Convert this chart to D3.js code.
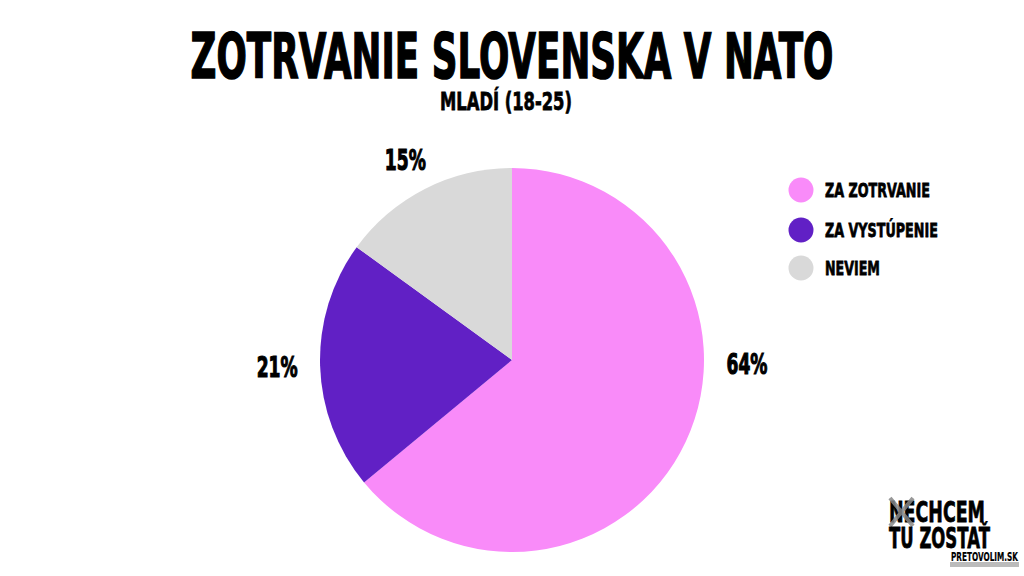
<!DOCTYPE html>
<html>
<head>
<meta charset="utf-8">
<script src="https://cdn.jsdelivr.net/npm/d3@7"></script>
<style>
  html, body { margin: 0; padding: 0; background: #fff; }
  svg { display: block; }
  text { font-family: "DejaVu Sans", sans-serif; font-weight: bold; fill: #000; }
</style>
</head>
<body>
<svg id="chart"></svg>
<script>
// Zotrvanie Slovenska v NATO - mladí (18-25)

const categories = ['ZA ZOTRVANIE', 'ZA VYSTÚPENIE', 'NEVIEM'];
const values = [64, 21, 15];
const colors = ['#F98BF9', '#6120C5', '#D9D9D9'];
// uhol stredu popisu (v stupňoch od 12 hod.), null = stred výseku
const labelAngles = [91, null, null];

const W = 1024, H = 576;
const svg = d3.select('#chart').attr('width', W).attr('height', H);

svg.append('rect').attr('width', W).attr('height', H).attr('fill', '#fff');

// text zúžený na danú šírku (písmo je širšie ako originál)
function fitText(parent, str, x, y, width, size, anchor, stroke) {
  const t = parent.append('text')
    .attr('text-anchor', anchor)
    .attr('font-size', size + 'px')
    .attr('stroke', '#000')
    .attr('stroke-width', stroke)
    .text(str);
  const w = t.node().getComputedTextLength() || width;
  t.attr('transform', `translate(${x},${y}) scale(${width / w},1)`);
  return t;
}

// titulok
fitText(svg, 'ZOTRVANIE SLOVENSKA V NATO', 512, 78, 643, 62, 'middle', 1.6);
fitText(svg, 'MLADÍ (18-25)', 506, 110, 132, 24, 'middle', 0.8);

// koláč
const cx = 512, cy = 360, radius = 192;
const data = categories.map((c, i) => ({ cat: c, value: values[i], color: colors[i], la: labelAngles[i] }));

const pie = d3.pie().value(d => d.value).sort(null);
const arc = d3.arc().innerRadius(0).outerRadius(radius);
const arcs = pie(data);

const g = svg.append('g').attr('transform', `translate(${cx},${cy})`);

g.selectAll('path.slice')
  .data(arcs)
  .enter()
  .append('path')
  .attr('class', 'slice')
  .attr('d', arc)
  .attr('fill', d => d.data.color);

const labelR = 235;
arcs.forEach(d => {
  const a = d.data.la != null ? d.data.la * Math.PI / 180 : (d.startAngle + d.endAngle) / 2;
  const x = Math.sin(a) * labelR;
  const y = -Math.cos(a) * labelR;
  // nad koláčom posun nižšie, aby popis sedel pri okraji
  const dy = 10 + Math.max(0, Math.cos(a)) * 10;
  fitText(g, d.data.value + '%', x, y + dy, 41, 28, 'middle', 1.2);
});

// legenda
const legend = svg.append('g').attr('transform', 'translate(801,190)');
const legendStep = [0, 40, 78];
const legendWidth = [105, 113, 55];
data.forEach((d, i) => {
  legend.append('circle')
    .attr('cy', legendStep[i])
    .attr('r', 12.5)
    .attr('fill', d.color);
  fitText(legend, d.cat, 24, legendStep[i] + 7, legendWidth[i], 20, 'start', 0.8);
});

// logo
const logo = svg.append('g').attr('transform', 'translate(889,0)');
fitText(logo, 'NECHCEM', 0, 522, 96, 29, 'start', 0.8);
logo.append('path')
  .attr('d', 'M1,498 L24,526 M24,498 L1,526')
  .attr('stroke', '#888').attr('stroke-width', 4).attr('opacity', 0.85);
fitText(logo, 'TU ZOSTAŤ', 0, 548, 101, 29, 'start', 0.8);
logo.append('rect')
  .attr('x', 61).attr('y', 562).attr('width', 69).attr('height', 5)
  .attr('fill', '#bbb');
fitText(logo, 'PRETOVOLIM.SK', 62, 561, 67, 12, 'start', 0.2);
</script>
</body>
</html>
